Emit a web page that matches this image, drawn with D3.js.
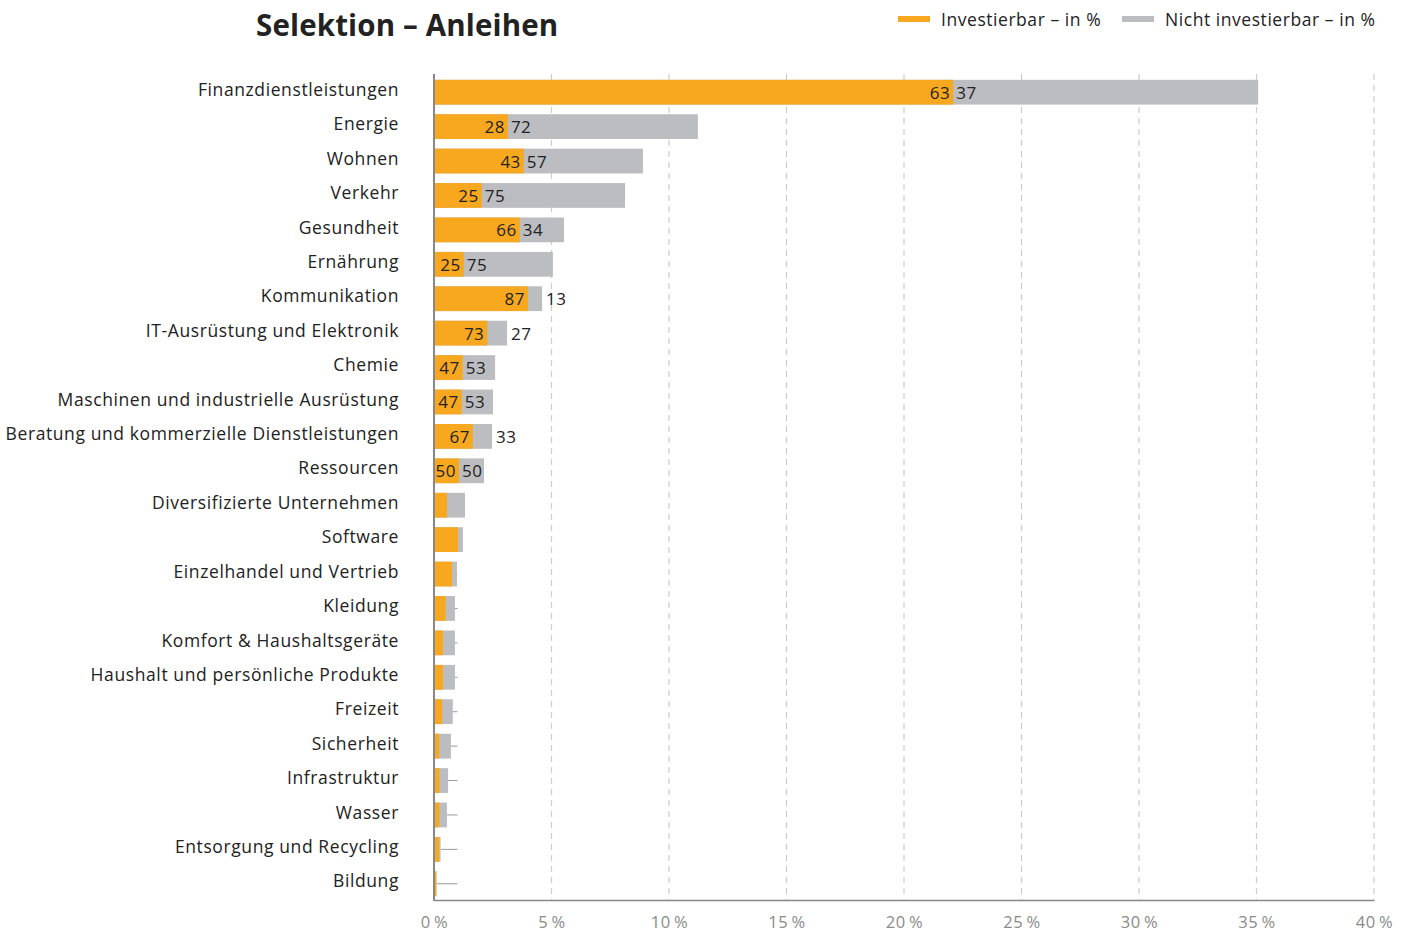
<!DOCTYPE html>
<html>
<head>
<meta charset="utf-8">
<script src="https://cdn.jsdelivr.net/npm/d3@7"></script>
<style>
  body { margin: 0; background: #fff; }
  text { font-family: "Open Sans", "Noto Sans", sans-serif; }
</style>
</head>
<body>
<div id="chart"></div>
<script>
// Sectors, total share of the selection (% of bonds) and investable part (% of sector)
var sectors = ["Finanzdienstleistungen", "Energie", "Wohnen", "Verkehr", "Gesundheit", "Ernährung",
  "Kommunikation", "IT-Ausrüstung und Elektronik", "Chemie", "Maschinen und industrielle Ausrüstung",
  "Beratung und kommerzielle Dienstleistungen", "Ressourcen", "Diversifizierte Unternehmen", "Software",
  "Einzelhandel und Vertrieb", "Kleidung", "Komfort & Haushaltsgeräte", "Haushalt und persönliche Produkte",
  "Freizeit", "Sicherheit", "Infrastruktur", "Wasser", "Entsorgung und Recycling", "Bildung"];
var totals = [35.07, 11.23, 8.89, 8.13, 5.53, 5.06, 4.6, 3.11, 2.6, 2.51, 2.47, 2.13,
  1.32, 1.23, 0.98, 0.89, 0.89, 0.89, 0.8, 0.72, 0.6, 0.55, 0.28, 0.1];
var investable = [63, 28, 43, 25, 66, 25, 87, 73, 47, 47, 67, 50,
  42, 83, 78, 56, 43, 43, 43, 31, 38, 41, 79, 100];
var showLabels = [true, true, true, true, true, true, true, true, true, true, true, true,
  false, false, false, false, false, false, false, false, false, false, false, false];
var xTicks = [0, 5, 10, 15, 20, 25, 30, 35, 40];

var width = 1411, height = 934;
var orange = "#F8A81E", grey = "#BCBDC1", ink = "#222";

var svg = d3.select("#chart").append("svg")
  .attr("width", width)
  .attr("height", height);

var x = d3.scaleLinear().domain([0, 40]).range([434, 1374]);
var y = d3.scaleBand().domain(sectors).range([75, 901]).paddingInner(0.28).paddingOuter(0.14);

// grid
svg.append("g").selectAll("line")
  .data(xTicks.slice(1))
  .enter().append("line")
    .attr("x1", function (d) { return x(d); })
    .attr("x2", function (d) { return x(d); })
    .attr("y1", 74).attr("y2", 900)
    .style("stroke", "#ccc")
    .style("stroke-width", 1.2)
    .style("stroke-dasharray", "6,5");

// x axis
var xAxis = svg.append("g")
  .attr("transform", "translate(0,900)")
  .call(d3.axisBottom(x).tickValues(xTicks).tickSize(0).tickFormat(function (d) { return d + "\u2009%"; }));
xAxis.select(".domain").style("stroke", "#888").style("stroke-width", 1.5);
xAxis.selectAll("text")
  .attr("y", 16)
  .attr("dy", "0.71em")
  .style("font-size", "16.5px")
  .style("letter-spacing", "0.6px")
  .style("fill", "#8a8a8a")
  .style("font-family", "'Open Sans', sans-serif");

var rows = sectors.map(function (s, i) {
  return { name: s, total: totals[i], inv: investable[i], show: showLabels[i] };
});

// leader lines for tiny bars
svg.append("g").selectAll("line")
  .data(rows.filter(function (d) { return d.total < 1; }))
  .enter().append("line")
    .attr("x1", function (d) { return x(d.total); })
    .attr("x2", x(1))
    .attr("y1", function (d) { return y(d.name) + y.bandwidth() / 2; })
    .attr("y2", function (d) { return y(d.name) + y.bandwidth() / 2; })
    .style("stroke", "#999")
    .style("stroke-width", 1);

var g = svg.append("g").selectAll("g")
  .data(rows)
  .enter().append("g");

g.append("rect")
  .attr("x", x(0))
  .attr("y", function (d) { return y(d.name); })
  .attr("height", y.bandwidth())
  .attr("width", function (d) { return x(d.total) - x(0); })
  .style("fill", grey);

g.append("rect")
  .attr("x", x(0))
  .attr("y", function (d) { return y(d.name); })
  .attr("height", y.bandwidth())
  .attr("width", function (d) { return x(d.total * d.inv / 100) - x(0); })
  .style("fill", orange);

var lab = g.filter(function (d) { return d.show; });

lab.append("text")
  .attr("x", function (d) { return x(d.total * d.inv / 100) - 3; })
  .attr("y", function (d) { return y(d.name) + y.bandwidth() / 2; })
  .attr("dy", "0.38em")
  .attr("text-anchor", "end")
  .style("font-size", "17px")
  .style("letter-spacing", "0.5px")
  .style("fill", ink)
  .text(function (d) { return d.inv; });

lab.append("text")
  .attr("x", function (d) {
    var split = x(d.total * d.inv / 100), end = x(d.total);
    return (end - split < 24) ? end + 4 : split + 3;
  })
  .attr("y", function (d) { return y(d.name) + y.bandwidth() / 2; })
  .attr("dy", "0.38em")
  .style("font-size", "17px")
  .style("letter-spacing", "0.5px")
  .style("fill", ink)
  .text(function (d) { return 100 - d.inv; });

// y axis line and category labels
svg.append("line")
  .attr("x1", x(0)).attr("x2", x(0))
  .attr("y1", 74).attr("y2", 901)
  .style("stroke", "#888")
  .style("stroke-width", 2);

svg.append("g").selectAll("text")
  .data(sectors)
  .enter().append("text")
    .attr("x", 399)
    .attr("y", function (d) { return y(d) + y.bandwidth() / 2 - 3; })
    .attr("dy", "0.38em")
    .attr("text-anchor", "end")
    .style("font-size", "17.5px")
    .style("letter-spacing", "0.6px")
    .style("fill", ink)
    .text(function (d) { return d; });

// title
svg.append("text")
  .attr("x", 256).attr("y", 36)
  .style("font-size", "29.5px")
  .style("letter-spacing", "0.15px")
  .style("font-weight", "bold")
  .style("fill", ink)
  .text("Selektion \u2013 Anleihen");

// legend
var legend = [
  { label: "Investierbar \u2013 in %", color: orange, x: 898 },
  { label: "Nicht investierbar \u2013 in %", color: grey, x: 1122 }
];
var lg = svg.append("g").selectAll("g")
  .data(legend)
  .enter().append("g");
lg.append("rect")
  .attr("x", function (d) { return d.x; })
  .attr("y", 16).attr("width", 32).attr("height", 6)
  .style("fill", function (d) { return d.color; });
lg.append("text")
  .attr("x", function (d) { return d.x + 43; })
  .attr("y", 26)
  .style("font-size", "17.5px")
  .style("letter-spacing", "0.55px")
  .style("fill", ink)
  .text(function (d) { return d.label; });
</script>
</body>
</html>
